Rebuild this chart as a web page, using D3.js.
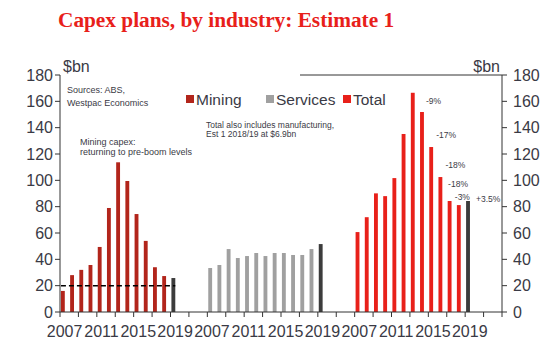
<!DOCTYPE html>
<html><head><meta charset="utf-8">
<script src="https://cdn.jsdelivr.net/npm/d3@7"></script>
<style>body{margin:0;background:#fff} svg text{font-family:Arial,"Liberation Sans",sans-serif}</style>
</head><body><svg id="c" width="547" height="358"></svg>
<script>
// ---- data ----
const years = ["2007","2008","2009","2010","2011","2012","2013","2014","2015","2016","2017","2018","2019","2020","2021","2022"];
const panels = ["Mining","Services","Total"];
const miningActual   = [16, 28, 32, 35.7, 49.4, 79, 113.7, 99.5, 74.4, 54, 34, 27.3];
const servicesActual = [33.4, 35.7, 47.8, 41, 42.5, 44.8, 42.5, 44.8, 44.8, 43.3, 43.3, 47.8];
const totalActual    = [60.7, 72, 90.1, 88, 101.7, 135.2, 166.5, 151.9, 125.3, 102.5, 84.3, 81.2];
const estimate1      = [25.8, 51.6, 84.3];           // 2019 Estimate 1 for Mining, Services, Total
const estimateYear   = "2019";
const preBoomLevel   = 20;
const yTicks = [0,20,40,60,80,100,120,140,160,180];
const xLabelYears = ["2007","2011","2015","2019"];
const changeLabels = [
  {year:"2014", text:"-9%"},
  {year:"2015", text:"-17%"},
  {year:"2016", text:"-18%"},
  {year:"2017", text:"-18%"},
  {year:"2018", text:"-3%"},
  {year:"2019", text:"+3.5%"}
];
// label offsets (layout only)
const changeOffsets = [[4,-11],[5,-12],[5,-12],[-1.5,-17],[-4,-8],[8,-2]];

// ---- layout ----
const L = 60, R = 502, Y0 = 312, YT = 75;
const colors = {Mining:"#B2251B", Services:"#A0A0A0", Total:"#E8201A", est:"#3C3C3C"};
const axisCol = "#333", textCol = "#3a3a45";

const svg = d3.select("#c");
const cats = [];
panels.forEach(p => years.forEach(yr => cats.push(p + "|" + yr)));
const x = d3.scaleBand().domain(cats).range([L, R]).padding(0);
const y = d3.scaleLinear().domain([0,180]).range([Y0, YT]);
const bw = x.bandwidth();
const barX = c => x(c) + bw*0.1, barW = bw*0.42;

const actual = {Mining: miningActual, Services: servicesActual, Total: totalActual};
const bars = [];
panels.forEach((p, pi) => {
  actual[p].forEach((v, i) => bars.push({cat: p+"|"+years[i], v, col: colors[p]}));
  bars.push({cat: p+"|"+estimateYear, v: estimate1[pi], col: colors.est});
});

// title
svg.append("text").attr("x", 58).attr("y", 27)
  .style("font-family", "'Liberation Serif','Times New Roman',serif")
  .style("font-weight", "bold").style("font-size", "21.3px").attr("fill", "#E8201A")
  .text("Capex plans, by industry: Estimate 1");

// bars
svg.append("g").selectAll("rect").data(bars).join("rect")
  .attr("x", d => barX(d.cat)).attr("width", barW)
  .attr("y", d => y(d.v)).attr("height", d => Y0 - y(d.v))
  .attr("fill", d => d.col);

// pre-boom dashed line
svg.append("line")
  .attr("x1", barX("Mining|2007")).attr("x2", barX("Mining|2019") + barW)
  .attr("y1", y(preBoomLevel)).attr("y2", y(preBoomLevel))
  .attr("stroke", "#000").attr("stroke-width", 1.5).attr("stroke-dasharray", "5,3");

// axes
const ax = svg.append("g").attr("stroke", axisCol).attr("stroke-width", 1);
ax.append("line").attr("x1", L).attr("x2", L).attr("y1", YT).attr("y2", Y0);
ax.append("line").attr("x1", R).attr("x2", R).attr("y1", YT).attr("y2", Y0);
ax.append("line").attr("x1", L).attr("x2", R).attr("y1", Y0).attr("y2", Y0);
ax.append("line").attr("x1", 300).attr("x2", R).attr("y1", YT).attr("y2", YT);
yTicks.forEach(t => {
  ax.append("line").attr("x1", L-5).attr("x2", L).attr("y1", y(t)).attr("y2", y(t));
  ax.append("line").attr("x1", R).attr("x2", R+5).attr("y1", y(t)).attr("y2", y(t));
});
cats.forEach((c, i) => { if (i % 2 === 0)
  ax.append("line").attr("x1", x(c)).attr("x2", x(c)).attr("y1", Y0).attr("y2", Y0+5); });
ax.append("line").attr("x1", R).attr("x2", R).attr("y1", Y0).attr("y2", Y0+5);

const ty = svg.append("g").attr("fill", textCol).style("font-size", "16px");
yTicks.forEach(t => {
  ty.append("text").attr("x", L-7).attr("y", y(t)).attr("dy", "0.36em").attr("text-anchor", "end").text(t);
  ty.append("text").attr("x", R+11).attr("y", y(t)).attr("dy", "0.36em").text(t);
});
panels.forEach(p => xLabelYears.forEach(yr => {
  const c = p+"|"+yr;
  ty.append("text").attr("x", x(c)+bw/2).attr("y", 337).attr("text-anchor", "middle").text(yr);
}));
ty.append("text").attr("x", 63).attr("y", 72).text("$bn");
ty.append("text").attr("x", 500).attr("y", 72).attr("text-anchor", "end").text("$bn");

// legend
const leg = [{k:"Mining", x:186}, {k:"Services", x:266}, {k:"Total", x:343}];
const lg = svg.append("g");
leg.forEach(d => {
  lg.append("rect").attr("x", d.x).attr("y", 95).attr("width", 8).attr("height", 8).attr("fill", colors[d.k]);
  lg.append("text").attr("x", d.x+10).attr("y", 105).attr("fill", textCol).style("font-size", "15.5px").text(d.k);
});

// notes
const notes = svg.append("g").attr("fill", textCol).style("font-size", "9px");
notes.append("text").attr("x", 67).attr("y", 93).text("Sources: ABS,");
notes.append("text").attr("x", 67).attr("y", 106).text("Westpac Economics");
notes.append("text").attr("x", 80).attr("y", 145).text("Mining capex:");
notes.append("text").attr("x", 80).attr("y", 155).text("returning to pre-boom levels");
notes.append("text").attr("x", 206).attr("y", 128).style("font-size", "8.5px").text("Total also includes manufacturing,");
notes.append("text").attr("x", 206).attr("y", 137).style("font-size", "8.5px").text("Est 1 2018/19 at $6.9bn");

// change labels
const totalAll = {};
bars.filter(b => b.cat.startsWith("Total|")).forEach(b => totalAll[b.cat] = b.v);
changeLabels.forEach((d, i) => {
  const c = "Total|" + d.year;
  svg.append("text").attr("x", barX(c) + barW/2 + changeOffsets[i][0])
    .attr("y", y(totalAll[c]) + changeOffsets[i][1]).attr("dy", "0.35em")
    .attr("fill", textCol).style("font-size", "8.5px").text(d.text);
});
</script></body></html>
